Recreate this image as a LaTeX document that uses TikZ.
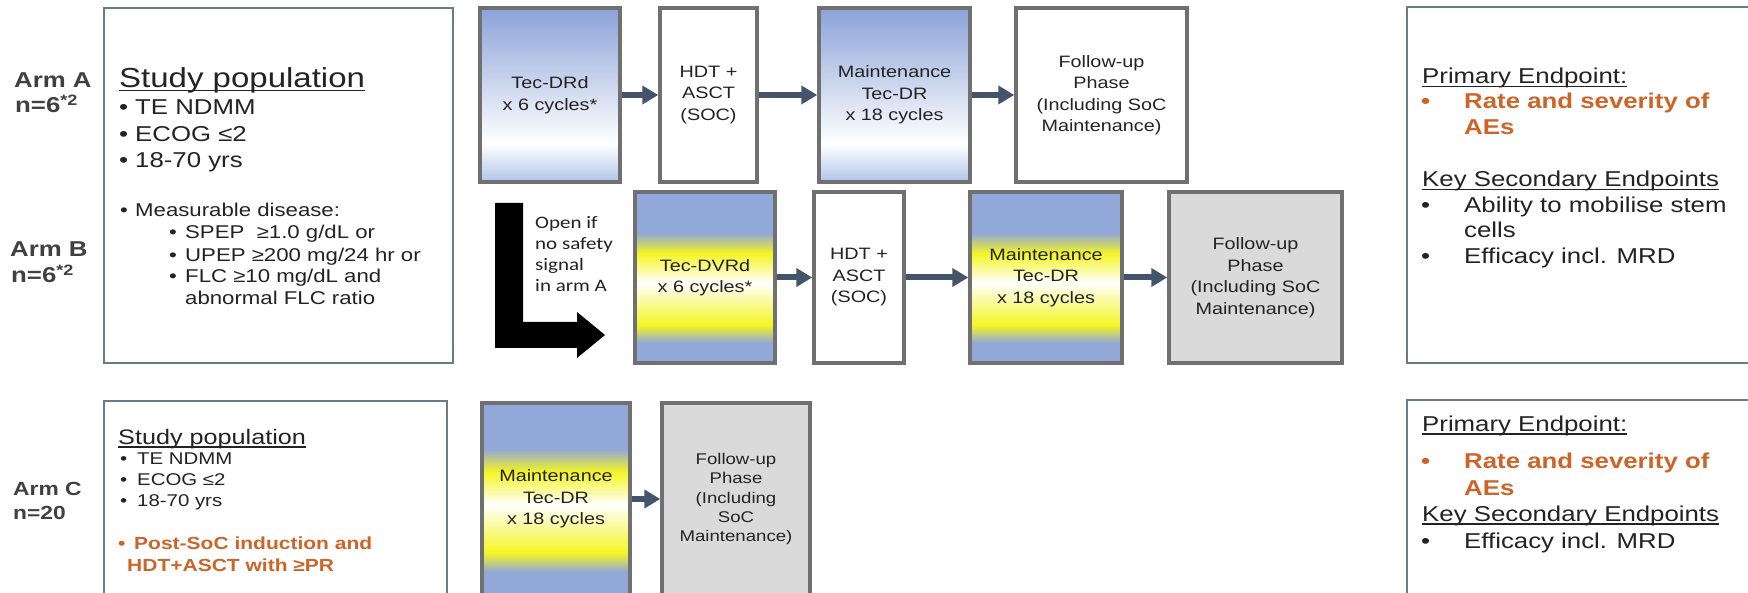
\documentclass[tikz,border=0pt]{standalone}
\usepackage{fontspec}
\setmainfont{Liberation Sans}[FakeStretch=1.2]
\newfontfamily\calfont{Carlito}[FakeStretch=1.2]
\usetikzlibrary{arrows.meta}

\definecolor{armgray}{RGB}{64,64,64}
\definecolor{txtgray}{RGB}{35,35,35}
\definecolor{boxgray}{RGB}{112,112,112}
\definecolor{popline}{RGB}{105,125,135}
\definecolor{arrgray}{RGB}{68,84,106}
\definecolor{endorange}{RGB}{205,100,40}
\definecolor{fupfill}{RGB}{218,218,218}
\definecolor{bluD}{RGB}{138,162,216}
\definecolor{bluL}{RGB}{176,196,234}
\definecolor{bluM}{RGB}{145,168,216}
\definecolor{yelM}{RGB}{245,245,35}

% vertical shadings, bottom to top
\pgfdeclareverticalshading{shadeA}{100bp}{color(0bp)=(bluL); color(25bp)=(bluL);
  color(36bp)=(white); color(75bp)=(bluD); color(100bp)=(bluD)}
\pgfdeclareverticalshading{shadeB}{100bp}{color(0bp)=(bluM); color(31bp)=(bluM);
  color(36bp)=(yelM); color(48.5bp)=(white); color(57bp)=(yelM);
  color(63bp)=(bluM); color(100bp)=(bluM)}

\newcommand\ulinetxt[1]{\setbox0\hbox{#1}\rlap{\rule[-3.5pt]{\wd0}{1.4pt}}\box0}
\newcommand\bulitem[2]{\makebox[#1][l]{\textbullet}#2}

\begin{document}
\begin{tikzpicture}
  [x=1pt,y=-1pt,
   every node/.style={inner sep=0pt,text=txtgray},
   popbox/.style={draw=popline,line width=1.5pt},
   procbox/.style={draw=boxgray,line width=3.5pt,align=center,
     font=\fontsize{16.5}{21.5}\selectfont},
   flowarr/.style={draw=arrgray,line width=6pt,-{Triangle[length=16pt,width=18pt]}},
   armlbl/.style={anchor=base west,text=armgray,font=\bfseries\fontsize{21.5}{24}\selectfont},
   poptxt/.style={anchor=base west,font=\fontsize{21.5}{24}\selectfont},
   subtxt/.style={anchor=base west,font=\fontsize{18.5}{21}\selectfont},
   ctxt/.style={anchor=base west,font=\fontsize{17}{20}\selectfont},
   endtxt/.style={anchor=base west,font=\fontsize{21.5}{24}\selectfont},
   orgtxt/.style={anchor=base west,text=endorange,font=\bfseries\fontsize{21.5}{24}\selectfont}]
\useasboundingbox (0,0) rectangle (1748,593);
\clip (0,0) rectangle (1748,593);
\fill[white] (0,0) rectangle (1748,593);

% arm labels
\node (armA)[armlbl] at (14,88) {Arm A};
\node (numA)[armlbl] at (15,113) {n=6\textsuperscript{*2}};
\node (armB)[armlbl] at (10,257) {Arm B};
\node (numB)[armlbl] at (11,283) {n=6\textsuperscript{*2}};
\node (armC)[armlbl,font=\bfseries\fontsize{19}{22}\selectfont] at (13,495) {Arm C};
\node (numC)[armlbl,font=\bfseries\fontsize{19}{22}\selectfont] at (13,519) {n=20};

% study population, arms A and B
\node (popAB)[popbox,minimum width=349pt,minimum height=355pt] at (278.5,185.5) {};
\node (popHd)[anchor=base west,font=\fontsize{27.5}{30}\selectfont] at (119,88) {\ulinetxt{Study population}};
\node (popT1)[poptxt] at (119,115) {\bulitem{16pt}{TE NDMM}};
\node (popT2)[poptxt] at (119,142) {\bulitem{16pt}{ECOG ≤2}};
\node (popT3)[poptxt] at (119,168) {\bulitem{16pt}{18-70 yrs}};
\node (popT4)[subtxt] at (120,217) {\bulitem{15pt}{Measurable disease:}};
\node (popS1)[subtxt] at (169,239) {\bulitem{16pt}{SPEP \ ≥1.0 g/dL or}};
\node (popS2)[subtxt] at (169,262) {\bulitem{16pt}{UPEP ≥200 mg/24 hr or}};
\node (popS3)[subtxt] at (169,283) {\bulitem{16pt}{FLC ≥10 mg/dL and}};
\node (popS4)[subtxt] at (185,305) {abnormal FLC ratio};

% study population, arm C
\node (popC)[popbox,minimum width=343pt,minimum height=219pt] at (275.5,510.5) {};
\node (popCHd)[anchor=base west,font=\fontsize{21}{24}\selectfont] at (118,444) {\ulinetxt{Study population}};
\node (popC1)[ctxt] at (120,464) {\bulitem{17pt}{TE NDMM}};
\node (popC2)[ctxt] at (120,485) {\bulitem{17pt}{ECOG ≤2}};
\node (popC3)[ctxt] at (120,506) {\bulitem{17pt}{18-70 yrs}};
\node (popC4)[ctxt,text=endorange,font=\bfseries\fontsize{17.5}{20}\selectfont] at (118,549) {\bulitem{16pt}{Post-SoC induction and}};
\node (popC5)[ctxt,text=endorange,font=\bfseries\fontsize{17.5}{20}\selectfont] at (127,571) {HDT+ASCT with ≥PR};

% arm A
\node (tecA)[procbox,shade,shading=shadeA,minimum width=140pt,minimum height=174pt] at (550,95) {Tec-DRd\\x 6 cycles*};
\node (hdtA)[procbox,fill=white,minimum width=97pt,minimum height=174pt] at (708.5,95) {HDT +\\ASCT\\(SOC)};
\node (mntA)[procbox,shade,shading=shadeA,minimum width=151pt,minimum height=174pt] at (894.5,95) {Maintenance\\Tec-DR\\x 18 cycles};
\node (fupA)[procbox,fill=white,minimum width=171pt,minimum height=174pt] at (1101.5,95) {Follow-up\\Phase\\(Including SoC\\Maintenance)};

% arm B
\fill[black] (495,203) -- (523,203) -- (523,322) -- (577,322) -- (577,312) -- (605,335)
  -- (577,358) -- (577,348) -- (495,348) -- cycle;
\node (openB)[anchor=west,align=left,font=\calfont\fontsize{17.5}{21.3}\selectfont] at (535,254) {Open if\\no safety\\signal\\in arm A};
\node (tecB)[procbox,shade,shading=shadeB,minimum width=140pt,minimum height=171pt] at (705,277.5) {Tec-DVRd\\x 6 cycles*};
\node (hdtB)[procbox,fill=white,minimum width=90pt,minimum height=171pt] at (859,277.5) {HDT +\\ASCT\\(SOC)};
\node (mntB)[procbox,shade,shading=shadeB,minimum width=152pt,minimum height=171pt] at (1046,277.5) {Maintenance\\Tec-DR\\x 18 cycles};
\node (fupB)[procbox,fill=fupfill,minimum width=173pt,minimum height=171pt] at (1255.5,277.5) {Follow-up\\Phase\\(Including SoC\\Maintenance)};

% arm C
\node (mntC)[procbox,shade,shading=shadeB,minimum width=148pt,minimum height=192pt] at (556,499) {Maintenance\\Tec-DR\\x 18 cycles};
\node (fupC)[procbox,fill=fupfill,minimum width=148pt,minimum height=192pt,
  font=\fontsize{15.5}{19.3}\selectfont] at (736,499) {Follow-up\\Phase\\(Including\\SoC\\Maintenance)};

\foreach \from/\to in {tecA/hdtA,hdtA/mntA,mntA/fupA,tecB/hdtB,hdtB/mntB,mntB/fupB,mntC/fupC}
  \draw[flowarr] (\from) -- (\to);

% endpoints, arms A and B
\node (endAB)[popbox,minimum width=373pt,minimum height=356pt] at (1593.5,185) {};
\node (endP)[endtxt] at (1422,84) {\ulinetxt{Primary Endpoint:}};
\node (endP1)[orgtxt] at (1421,109) {\bulitem{43pt}{Rate and severity of}};
\node (endP2)[orgtxt] at (1464,135) {AEs};
\node (endK)[endtxt] at (1422,187) {\ulinetxt{Key Secondary Endpoints}};
\node (endK1)[endtxt] at (1421,213) {\bulitem{43pt}{Ability to mobilise stem}};
\node (endK2)[endtxt] at (1464,238) {cells};
\node (endK3)[endtxt] at (1421,264) {\bulitem{43pt}{Efficacy incl. MRD}};

% endpoints, arm C
\node (endC)[popbox,minimum width=373pt,minimum height=220pt] at (1593.5,510) {};
\node (endCP)[endtxt] at (1422,431) {\ulinetxt{Primary Endpoint:}};
\node (endCP1)[orgtxt] at (1421,468) {\bulitem{43pt}{Rate and severity of}};
\node (endCP2)[orgtxt] at (1464,495) {AEs};
\node (endCK)[endtxt] at (1422,521) {\ulinetxt{Key Secondary Endpoints}};
\node (endCK1)[endtxt] at (1421,548) {\bulitem{43pt}{Efficacy incl. MRD}};
\end{tikzpicture}
\end{document}
